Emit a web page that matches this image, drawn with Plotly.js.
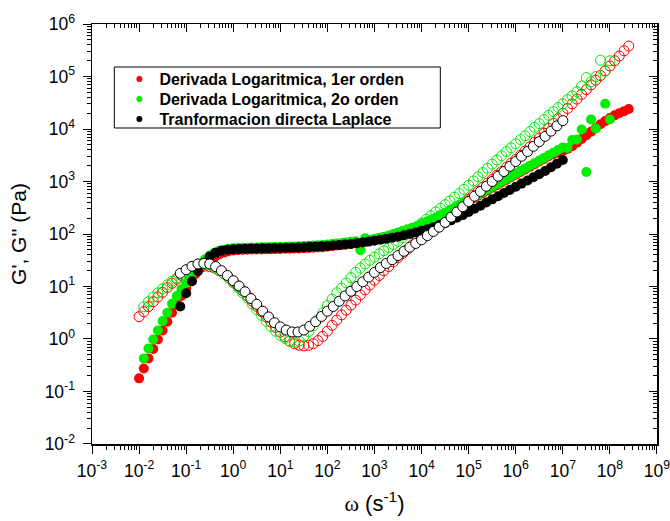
<!DOCTYPE html>
<html><head><meta charset="utf-8">
<script src="https://cdn.plot.ly/plotly-3.0.1.min.js"></script>
<style>html,body{margin:0;padding:0;background:#fff}#chart{width:670px;height:521px}</style>
</head><body><div id="chart"></div>
<script>
// angular frequency grids (s^-1)
const omegaRed = [
  0.01,0.0126,0.0158,0.02,0.0251,0.0316,0.0398,0.0501,0.0631,0.0794,
  0.1,0.126,0.158,0.2,0.251,0.316,0.398,0.501,0.631,0.794,
  1,1.26,1.58,2,2.51,3.16,3.98,5.01,6.31,7.94,
  10,12.6,15.8,20,25.1,31.6,39.8,50.1,63.1,79.4,
  100,126,158,200,251,316,398,501,631,794,
  1e3,1.26e3,1.58e3,2e3,2.51e3,3.16e3,3.98e3,5.01e3,6.31e3,7.94e3,
  1e4,1.26e4,1.58e4,2e4,2.51e4,3.16e4,3.98e4,5.01e4,6.31e4,7.94e4,
  1e5,1.26e5,1.58e5,2e5,2.51e5,3.16e5,3.98e5,5.01e5,6.31e5,7.94e5,
  1e6,1.26e6,1.58e6,2e6,2.51e6,3.16e6,3.98e6,5.01e6,6.31e6,7.94e6,
  1e7,1.26e7,1.58e7,2e7,2.51e7,3.16e7,3.98e7,5.01e7,6.31e7,7.94e7,
  1e8,1.26e8,1.58e8,2e8,2.51e8
];
const omegaGreen = [
  0.0126,0.0158,0.02,0.0251,0.0316,0.0398,0.0501,0.0631,0.0794,0.1,
  0.126,0.158,0.2,0.251,0.316,0.398,0.501,0.631,0.794,1,
  1.26,1.58,2,2.51,3.16,3.98,5.01,6.31,7.94,10,
  12.6,15.8,20,25.1,31.6,39.8,50.1,63.1,79.4,100,
  126,158,200,251,316,398,501,631,794,1e3,
  1.26e3,1.58e3,2e3,2.51e3,3.16e3,3.98e3,5.01e3,6.31e3,7.94e3,1e4,
  1.26e4,1.58e4,2e4,2.51e4,3.16e4,3.98e4,5.01e4,6.31e4,7.94e4,1e5,
  1.26e5,1.58e5,2e5,2.51e5,3.16e5,3.98e5,5.01e5,6.31e5,7.94e5,1e6,
  1.26e6,1.58e6,2e6,2.51e6,3.16e6,3.98e6,5.01e6,6.31e6,7.94e6,1e7,
  1.26e7,1.58e7,2e7,2.51e7,3.16e7,3.98e7,5.01e7,6.31e7,7.94e7,1e8
];
const omegaBlack = [
  0.075,
  0.1,0.133,0.178,0.237,0.316,0.422,0.562,0.75,
  1,1.33,1.78,2.37,3.16,4.22,5.62,7.5,
  10,13.3,17.8,23.7,31.6,42.2,56.2,75,
  100,133,178,237,316,422,562,750,
  1e3,1.33e3,1.78e3,2.37e3,3.16e3,4.22e3,5.62e3,7.5e3,
  1e4,1.33e4,1.78e4,2.37e4,3.16e4,4.22e4,5.62e4,7.5e4,
  1e5,1.33e5,1.78e5,2.37e5,3.16e5,4.22e5,5.62e5,7.5e5,
  1e6,1.33e6,1.78e6,2.37e6,3.16e6,4.22e6,5.62e6,7.5e6,
  1e7
];

// Derivada Logaritmica, 1er orden: G' (filled) and G'' (open)
const redGp = [
  0.178,0.275,0.427,0.646,0.977,1.45,2.14,3.16,4.57,6.61,
  9.33,12.9,17.4,22.4,27.5,32.4,36.3,40.7,44.2,46.8,
  48.4,49.3,49.9,50.1,50.5,50.7,50.9,51.2,51.4,51.6,
  51.9,52.2,52.5,52.8,53.2,53.7,54.3,55.0,55.6,56.2,
  57.5,58.9,60.3,61.7,63.1,64.6,66.1,68.4,70.8,73.3,
  75.9,79.4,83.2,87.1,91.2,95.5,100,107,115,126,
  148,162,178,195,219,240,269,302,339,380,
  427,479,537,603,676,759,851,955,1072,1202,
  1349,1514,1698,1905,2138,2399,2692,3020,3311,3548,
  3802,4169,4677,5495,6457,7586,8913,10470,12300,14130,
  16220,18200,19950,21880,23990
];
const redGpp = [
  2.66,3.31,4.12,5.13,6.31,7.76,9.55,11.5,13.8,16.2,
  18.6,20.9,22.9,24.3,24.5,24.0,22.4,20.0,17.4,14.8,
  12.3,10.2,8.32,6.61,5.25,4.17,3.31,2.63,2.09,1.66,
  1.35,1.10,0.912,0.813,0.759,0.741,0.759,0.813,0.933,1.12,
  1.41,1.82,2.29,2.88,3.55,4.42,5.50,6.92,8.61,10.7,
  13.2,16.2,20.0,24.0,29.5,35.5,42.7,51.3,61.7,74.1,
  85.1,98.9,115,133,155,182,219,263,316,380,
  457,550,653,776,933,1096,1318,1549,1862,2239,
  2630,3162,3802,4571,5623,6761,8318,10230,12880,15850,
  19950,24550,30200,37150,45710,56230,69180,85110,104700,128800,
  158500,199500,245500,309000,380200
];

// Derivada Logaritmica, 2o orden
const greenGp = [
  0.427,0.661,0.977,1.45,2.19,3.16,4.68,6.61,8.91,11.7,
  15.8,20.9,26.9,33.1,38.9,43.7,47.9,50.1,52.5,53.7,
  54.3,54.7,55.0,55.2,55.6,55.8,56.1,56.4,56.6,56.9,
  57.3,57.5,57.9,58.3,58.9,59.6,60.3,61.0,61.7,63.1,
  64.6,66.1,67.6,69.2,70.8,72.4,49.0,83.2,77.6,81.3,
  85.1,89.1,93.3,100,107,115,123,132,141,155,
  170,186,204,229,251,282,316,355,398,447,
  501,562,631,708,794,891,1000,1122,1259,1413,
  1585,1778,1995,2239,2512,2818,3162,3548,3981,4467,
  4365,6166,6310,9772,1514,15140,10230,null,30200,15140
];
const greenGpp = [
  4.12,5.13,6.31,7.59,9.02,10.7,12.6,14.5,16.6,19.1,
  21.4,24.0,25.7,26.3,25.7,23.4,20.4,17.4,14.5,11.7,
  9.55,7.59,6.03,4.68,3.63,2.82,2.19,1.74,1.41,1.17,
  1.02,0.912,0.871,0.912,1.12,1.38,1.78,2.34,3.16,4.37,
  5.75,7.59,9.33,11.7,14.8,18.6,22.4,26.9,31.6,36.3,
  41.7,47.9,55.0,63.1,72.4,85.1,100,117,138,162,
  191,224,263,309,363,427,501,589,708,851,
  1023,1230,1479,1778,2138,2570,3090,3715,4365,5248,
  6310,7413,8913,10720,12590,15140,18200,21380,25700,30200,
  36310,42660,51290,66070,95500,79430,100000,204200,125900,199500
];

// Tranformacion directa Laplace
const blackGp = [
  4.17,
  7.41,12.6,19.5,28.2,37.2,43.7,47.9,50.1,
  51.3,51.9,52.5,52.7,53.1,53.3,53.7,54.0,
  54.3,54.7,55.0,55.6,56.2,56.9,57.5,58.2,
  58.9,60.3,61.7,63.1,64.6,66.8,69.2,71.6,
  74.1,77.6,81.3,85.1,89.1,94.4,100,107,
  115,123,135,148,162,182,204,229,
  263,302,347,398,457,525,603,692,
  794,912,1047,1202,1380,1585,1862,2188,
  2570
];
const blackGpp = [
  17.8,
  20.9,24.3,26.9,27.5,26.9,24.0,20.0,16.2,
  12.9,10.2,7.94,5.89,4.57,3.39,2.63,2.04,
  1.70,1.48,1.36,1.36,1.48,1.74,2.14,2.69,
  3.39,4.17,5.25,6.61,8.13,10.0,12.3,15.1,
  18.6,22.9,27.5,32.4,38.9,46.8,56.2,66.1,
  77.6,93.3,112,135,166,209,263,331,
  417,525,646,813,1000,1259,1549,1950,
  2399,3020,3715,4677,5754,7244,9120,11480,
  14450
];

const seriesNames = ['Derivada Logaritmica, 1er orden','Derivada Logaritmica, 2o orden','Tranformacion directa Laplace'];
const seriesColors = ['#ff0000','#00ee00','#000000'];

const xTickVals = [1e-3,1e-2,1e-1,1e0,1e1,1e2,1e3,1e4,1e5,1e6,1e7,1e8,1e9];
const xTickText = ['10<sup>-3</sup>','10<sup>-2</sup>','10<sup>-1</sup>','10<sup>0</sup>','10<sup>1</sup>','10<sup>2</sup>','10<sup>3</sup>','10<sup>4</sup>','10<sup>5</sup>','10<sup>6</sup>','10<sup>7</sup>','10<sup>8</sup>','10<sup>9</sup>'];
const yTickVals = [1e-2,1e-1,1e0,1e1,1e2,1e3,1e4,1e5,1e6];
const yTickText = ['10<sup>-2</sup>','10<sup>-1</sup>','10<sup>0</sup>','10<sup>1</sup>','10<sup>2</sup>','10<sup>3</sup>','10<sup>4</sup>','10<sup>5</sup>','10<sup>6</sup>'];

function minorVals(d0, d1) {
  const v = [];
  for (let d = d0; d < d1; d++) for (let k = 2; k <= 9; k++) v.push(k * Math.pow(10, d));
  return v;
}
const minorX = minorVals(-3, 9);
const minorY = minorVals(-2, 6);

const FONT = 'Liberation Sans, Arial, sans-serif';
const MS = 10;
const XR = [-3, 9.0002];
const YR = [-2.0002, 6.0002];

function filled(x, y, c) {
  return {x: x, y: y, type: 'scatter', mode: 'markers', showlegend: false, hoverinfo: 'skip',
          marker: {symbol: 'circle', size: MS, color: c, line: {width: 0}}};
}
function openT(x, y, c, fill) {
  if (fill) return {x: x, y: y, type: 'scatter', mode: 'markers', showlegend: false, hoverinfo: 'skip',
          marker: {symbol: 'circle', size: MS, color: fill, line: {width: 1, color: c}}};
  return {x: x, y: y, type: 'scatter', mode: 'markers', showlegend: false, hoverinfo: 'skip',
          marker: {symbol: 'circle-open', size: MS, color: c, line: {width: 1, color: c}}};
}

const traces = [
  filled(omegaRed, redGp, seriesColors[0]),
  openT(omegaRed, redGpp, seriesColors[0]),
  filled(omegaGreen, greenGp, seriesColors[1]),
  openT(omegaGreen, greenGpp, seriesColors[1]),
  filled(omegaBlack, blackGp, seriesColors[2]),
  openT(omegaBlack, blackGpp, seriesColors[2], '#ffffff')
];
// legend entries (one legend box row each)
const legendIds = ['legend', 'legend2', 'legend3'];
for (let i = 0; i < 3; i++) {
  traces.push({x: [null], y: [null], type: 'scatter', mode: 'markers', name: seriesNames[i],
               legend: legendIds[i], showlegend: true,
               marker: {symbol: 'circle', size: 6, color: seriesColors[i]}});
}
// mirror axes carrier
traces.push({x: [], y: [], xaxis: 'x2', yaxis: 'y2', type: 'scatter', mode: 'markers', showlegend: false, hoverinfo: 'skip'});

const axCommon = {
  type: 'log', showgrid: false, zeroline: false, showline: true, linecolor: '#000', linewidth: 1.5,
  tickmode: 'array', tickcolor: '#000', tickwidth: 1, ticklen: 8,
  tickfont: {family: FONT, size: 17.5, color: '#000'}
};
function legendAt(y) {
  return {x: 0.0485, y: y, xanchor: 'left', yanchor: 'top', bgcolor: 'rgba(0,0,0,0)', borderwidth: 0,
          font: {family: FONT, size: 16, weight: 'bold', color: '#000'}};
}

const layout = {
  width: 670, height: 521,
  margin: {l: 92, r: 13, t: 24, b: 77},
  paper_bgcolor: '#fff', plot_bgcolor: '#fff',
  font: {family: FONT, color: '#000'},
  showlegend: true,
  legend: legendAt(0.9093),
  legend2: legendAt(0.8617),
  legend3: legendAt(0.8141),
  shapes: [{type: 'rect', xref: 'paper', yref: 'paper', x0: 0.0395, x1: 0.6165, y0: 0.7524, y1: 0.8976,
            line: {color: '#000', width: 1}, fillcolor: 'rgba(0,0,0,0)'}],
  xaxis: Object.assign({}, axCommon, {
    range: XR, tickvals: xTickVals, ticktext: xTickText, ticks: 'outside', ticklabelstandoff: 2,
    ticklabeloverflow: 'allow',
    minor: {tickmode: 'array', tickvals: minorX, ticks: 'outside', ticklen: 4, tickcolor: '#000', tickwidth: 1, showgrid: false},
    title: {text: '<span style="font-family:Liberation Serif">ω</span> (s<sup>-1</sup>)', font: {family: FONT, size: 22, color: '#000'}, standoff: 16}
  }),
  yaxis: Object.assign({}, axCommon, {
    range: YR, tickvals: yTickVals, ticktext: yTickText, ticks: 'outside', ticklabelstandoff: 4,
    ticklabeloverflow: 'allow',
    minor: {tickmode: 'array', tickvals: minorY, ticks: 'outside', ticklen: 4, tickcolor: '#000', tickwidth: 1, showgrid: false},
    title: {text: "G', G'' (Pa)", font: {family: FONT, size: 21, color: '#000'}, standoff: 12}
  }),
  xaxis2: Object.assign({}, axCommon, {
    overlaying: 'x', side: 'top', anchor: 'y', range: XR, tickvals: xTickVals, ticks: 'inside', showticklabels: false,
    minor: {tickmode: 'array', tickvals: minorX, ticks: 'inside', ticklen: 4, tickcolor: '#000', tickwidth: 1, showgrid: false}
  }),
  yaxis2: Object.assign({}, axCommon, {
    overlaying: 'y', side: 'right', anchor: 'x', range: YR, tickvals: yTickVals, ticks: 'inside', showticklabels: false,
    minor: {tickmode: 'array', tickvals: minorY, ticks: 'inside', ticklen: 4, tickcolor: '#000', tickwidth: 1, showgrid: false}
  })
};

Plotly.newPlot('chart', traces, layout, {displayModeBar: false, staticPlot: true});
</script>
</body></html>
